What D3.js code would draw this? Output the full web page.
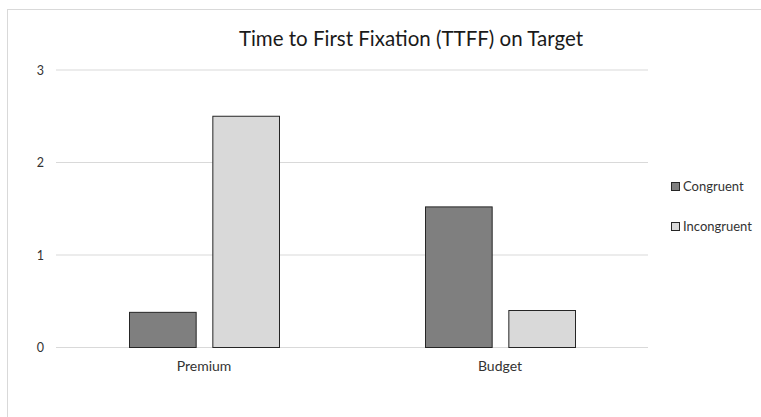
<!DOCTYPE html>
<html><head><meta charset="utf-8">
<script src="https://cdn.jsdelivr.net/npm/d3@7"></script>
<style>body{margin:0;background:#fff}svg{display:block}text{font-family:Lato,"Open Sans",sans-serif}</style>
</head><body><svg id="c" width="761" height="417"></svg>
<script>
const categories = ["Premium", "Budget"];
const seriesNames = ["Congruent", "Incongruent"];
const congruent = [0.38, 1.52];
const incongruent = [2.5, 0.4];
const yTicks = [0, 1, 2, 3];
const colors = ["#7f7f7f", "#d9d9d9"];
const title = "Time to First Fixation (TTFF) on Target";

const svg = d3.select("#c");
// chart area border
svg.append("rect").attr("x", 7.5).attr("y", 9.5).attr("width", 770).attr("height", 430)
  .attr("fill", "none").attr("stroke", "#d9d9d9");

const m = {l: 56, r: 648, t: 70, b: 347.5};
const x0 = d3.scaleBand().domain(categories).range([m.l, m.r]).paddingInner(0).paddingOuter(0);
const x1 = d3.scaleBand().domain(seriesNames).range([0, 150]).paddingInner(0.2).paddingOuter(0);
const y = d3.scaleLinear().domain([0, 3]).range([m.b, m.t]);

// gridlines
svg.append("g").selectAll("line").data(yTicks).join("line")
  .attr("x1", m.l).attr("x2", m.r).attr("y1", d => y(d)).attr("y2", d => y(d))
  .attr("stroke", "#d9d9d9").attr("stroke-width", 1);

// y axis labels
const ya = svg.append("g").attr("transform", `translate(${m.l},0)`)
  .call(d3.axisLeft(y).tickValues(yTicks).tickFormat(d3.format("d")).tickSize(0).tickPadding(12));
ya.select(".domain").remove();
ya.selectAll("text").attr("font-size", 12.5).attr("fill", "#333").style("font-family", "Lato, sans-serif");

// x axis labels
const xa = svg.append("g").attr("transform", `translate(0,${m.b})`)
  .call(d3.axisBottom(x0).tickSize(0).tickPadding(13.5));
xa.select(".domain").remove();
xa.selectAll("text").attr("font-size", 14).attr("fill", "#333").style("font-family", "Lato, sans-serif");

const data = categories.map((c, i) => ({c, vals: [congruent[i], incongruent[i]]}));
const g = svg.append("g").selectAll("g").data(data).join("g")
  .attr("transform", d => `translate(${x0(d.c) + x0.bandwidth() / 2 - 75},0)`);
g.selectAll("rect").data(d => d.vals.map((v, j) => ({s: seriesNames[j], v, j}))).join("rect")
  .attr("x", d => x1(d.s) + 0.5).attr("width", x1.bandwidth())
  .attr("y", d => y(d.v)).attr("height", d => y(0) - y(d.v))
  .attr("fill", d => colors[d.j]).attr("stroke", "#262626").attr("stroke-width", 1);

// title
svg.append("text").attr("x", 411).attr("y", 46).attr("text-anchor", "middle")
  .attr("font-size", 20.5).attr("fill", "#1a1a1a").text(title);

// legend
const lg = svg.append("g").selectAll("g").data(seriesNames).join("g")
  .attr("transform", (d, i) => `translate(671,${182 + i * 40})`);
lg.append("rect").attr("x", 0.5).attr("y", 0.5).attr("width", 8).attr("height", 8)
  .attr("fill", (d, i) => colors[i]).attr("stroke", "#262626");
lg.append("text").attr("x", 12).attr("y", 9).attr("font-size", 13).attr("fill", "#333").text(d => d);
</script></body></html>
